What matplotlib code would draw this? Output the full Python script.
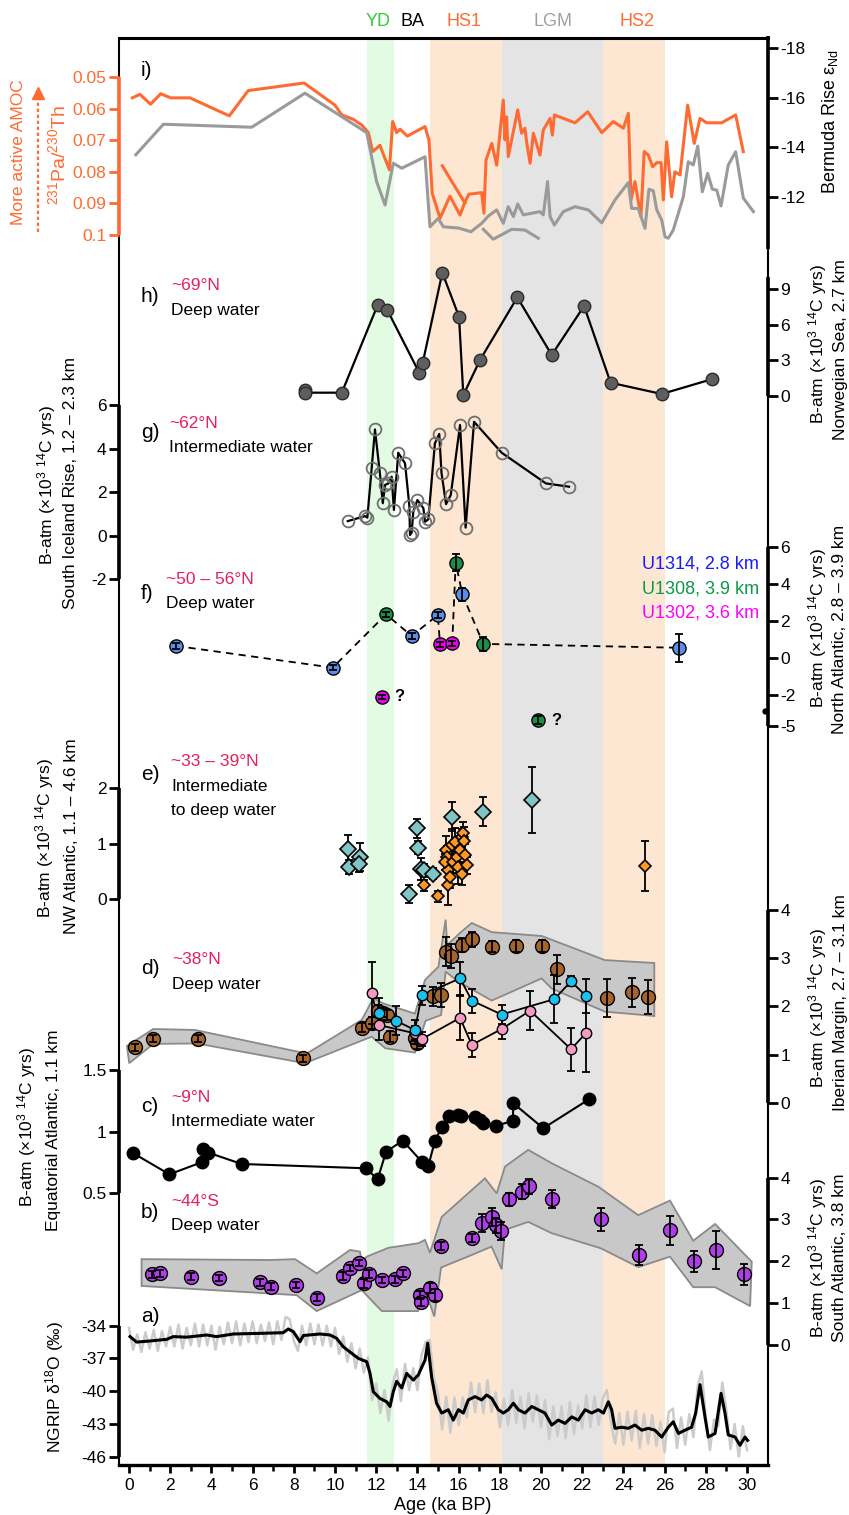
import numpy as np
import matplotlib
matplotlib.use("Agg")
import matplotlib.pyplot as plt
from matplotlib.lines import Line2D
from matplotlib.transforms import blended_transform_factory

plt.rcParams['font.family'] = ['Liberation Sans', 'DejaVu Sans']
plt.rcParams['mathtext.fontset'] = 'custom'
plt.rcParams['mathtext.rm'] = 'Liberation Sans'
plt.rcParams['mathtext.it'] = 'Liberation Sans:italic'
plt.rcParams['mathtext.bf'] = 'Liberation Sans:bold'
plt.rcParams['axes.unicode_minus'] = False

# ---------------- DATA ----------------
band_start = [11.55, 14.6, 18.1, 23.0]
band_end = [12.87, 18.1, 23.0, 26.0]
band_color = ['#e2fbe2', '#fde7d2', '#e4e4e4', '#fde7d2']
band_label = ['YD', 'BA', 'HS1', 'LGM', 'HS2']
band_label_age = [12.09, 13.74, 16.26, 20.58, 24.66]
band_label_color = ['#33cc33', '#000000', '#ff6a33', '#a0a0a0', '#ff6a33']

# i) Pa/Th and eNd
pa_age_a = [0.16,0.53,1.05,1.54,2.02,2.96,4.87,5.79,8.50,10.0,10.33,10.89,11.30,11.62,11.83,12.18,12.64,12.80,12.99,13.16,
            13.51,14.37,14.56,14.72,15.10,15.58,16.07,16.31,16.50,17.12,17.23,17.33,17.61,17.85,18.17,18.25,18.33,18.41,18.87,19.06,
            19.22,19.31,19.47,19.63,19.95,20.11,20.44,20.55,20.65,21.65,22.27,22.95,23.51,24.0,24.24,24.37,24.56,24.85,25.01,25.21,
            25.42,25.62,25.83,25.94,26.1,26.34,26.5,26.75,27.12,27.44,27.72,28.04,28.77,29.45,29.82]
pa_val_a = [0.0566,0.0555,0.0586,0.0553,0.0566,0.0566,0.0623,0.0543,0.0519,0.0589,0.0620,0.0634,0.0652,0.0676,0.0736,0.0716,0.0794,0.0641,0.0676,0.0665,
            0.0687,0.0657,0.0699,0.0868,0.0947,0.0877,0.0937,0.0895,0.0871,0.0866,0.0931,0.0763,0.0710,0.0779,0.0573,0.0699,0.0626,0.0752,0.0604,0.0678,
            0.0662,0.0710,0.0773,0.0678,0.0747,0.0668,0.0631,0.0684,0.0620,0.0645,0.0610,0.0676,0.0641,0.0662,0.0615,0.0889,0.0831,0.0942,0.0736,0.0747,
            0.0784,0.0771,0.0771,0.0889,0.0705,0.0879,0.0800,0.0810,0.0589,0.0710,0.0631,0.0645,0.0645,0.0620,0.0736]
pa_age_b = [15.21, 16.31]
pa_val_b = [0.0781, 0.0899]
nd_age_a = [0.33,1.67,5.96,8.54,11.54,12.02,12.43,12.83,13.24,14.37,14.61,15.01,15.26,16.0,16.6,17.12,17.44,17.85,18.17,18.41,
            18.66,18.87,19.14,19.51,19.95,20.11,20.32,20.44,20.65,21.08,21.65,22.30,22.95,23.59,24.24,24.40,24.72,25.05,25.24,25.45,
            25.62,25.86,26.02,26.18,26.42,26.91,27.15,27.39,27.61,27.83,28.09,28.32,28.53,28.74,29.09,29.45,29.82,30.31]
nd_val_a = [-13.7,-14.93,-14.81,-16.18,-14.59,-12.62,-11.68,-13.36,-13.16,-13.62,-10.8,-11.14,-10.8,-10.75,-10.6,-10.94,-11.23,-11.48,-10.94,-11.61,
            -11.21,-11.72,-11.28,-11.34,-11.41,-11.28,-12.62,-11.21,-10.87,-11.41,-11.61,-11.48,-10.96,-11.88,-12.58,-11.54,-11.54,-10.74,-12.31,-12.25,
            -11.48,-11.07,-10.40,-10.34,-10.67,-12.01,-13.42,-13.29,-14.05,-12.21,-12.95,-12.31,-12.28,-11.64,-13.29,-13.82,-11.96,-11.41]
nd_age_b = [17.2, 17.68, 18.58, 19.22, 19.87]
nd_val_b = [-10.7, -10.3, -10.7, -10.67, -10.34]

# h) Norwegian Sea
h_age = [8.54, 8.54, 10.33, 12.07, 12.54, 14.09, 14.26, 15.21, 16.02, 16.23, 17.04, 18.85, 20.52, 22.09, 23.38, 25.86, 28.32]
h_val = [0.51, 0.28, 0.28, 7.67, 7.25, 1.96, 2.81, 10.4, 6.69, 0.08, 3.04, 8.32, 3.46, 7.59, 1.12, 0.17, 1.43]

# g) South Iceland Rise
g_age = [10.62,11.46,11.57,11.78,11.94,12.18,12.32,12.43,12.59,12.75,12.86,13.07,13.40,13.61,13.64,13.72,13.80,14.0,14.29,14.37,
         14.53,14.85,15.06,15.17,15.39,15.62,16.07,16.34,16.75,18.09,20.24,21.36]
g_val = [0.67,0.90,0.83,3.09,4.88,2.86,1.49,2.33,2.40,2.71,1.18,3.81,3.32,1.36,0.03,0.14,1.10,1.64,1.26,0.64,
         0.75,4.24,4.67,2.89,1.45,1.87,5.08,0.37,5.23,3.81,2.40,2.25]

# f) North Atlantic deep
f_blue_age = [2.28, 9.89, 13.72, 14.99, 16.18, 26.70]
f_blue_val = [0.64, -0.54, 1.18, 2.32, 3.45, 0.54]
f_blue_err = [0.15, 0.15, 0.15, 0.15, 0.35, 0.75]
f_green_age = [12.48, 15.86, 17.20]
f_green_val = [2.36, 5.17, 0.75]
f_green_err = [0.15, 0.45, 0.4]
f_mag_age = [15.10, 15.69]
f_mag_val = [0.73, 0.78]
f_mag_err = [0.15, 0.15]
f_q_age = [12.27, 19.87]
f_q_val = [-2.21, -4.42]
f_q_err = [0.2, 0.35]
f_q_color = ['#ee00ee', '#1a8f4a']
f_ticks = [6, 4, 2, 0, -2, -5]
f_legend = ['U1314, 2.8 km', 'U1308, 3.9 km', 'U1302, 3.6 km']
f_legend_color = ['#1a1aff', '#0b9a4a', '#ff00ff']

# e) NW Atlantic
e_teal_age = [10.62, 10.69, 11.21, 11.15, 13.61, 13.97, 14.01, 14.16, 14.30, 14.77, 15.67, 17.20, 19.55]
e_teal_val = [0.90, 0.58, 0.76, 0.64, 0.09, 1.28, 0.93, 0.54, 0.52, 0.46, 1.49, 1.58, 1.79]
e_teal_err = [0.25, 0.12, 0.25, 0.15, 0.17, 0.17, 0.12, 0.2, 0.12, 0.1, 0.27, 0.27, 0.6]
e_or_age = [14.32, 15.02, 15.39, 15.42, 15.47, 15.50, 15.58, 15.34, 15.68, 15.73, 15.83, 15.91, 15.99, 16.07, 16.15, 16.15, 16.23, 16.28, 16.31, 16.39, 25.05]
e_or_val = [0.25, 0.05, 0.88, 0.76, 0.52, 0.25, 0.40, 0.67, 0.97, 0.67, 1.03, 0.76, 0.58, 0.88, 0.46, 1.12, 1.19, 1.05, 0.79, 0.61, 0.60]
e_or_err = [0.1, 0.1, 0.25, 0.2, 0.3, 0.35, 0.2, 0.15, 0.3, 0.2, 0.25, 0.2, 0.3, 0.25, 0.2, 0.15, 0.2, 0.25, 0.2, 0.15, 0.45]

# d) Iberian Margin
d_br_age = [0.29,1.18,3.35,8.46,11.30,11.78,12.10,12.34,12.51,12.67,13.88,13.97,14.77,15.15,15.37,15.63,16.18,16.64,17.61,18.77,20.06,20.76,23.19,24.40,25.18]
d_br_val = [1.15,1.33,1.33,0.92,1.56,1.65,1.91,1.87,1.82,1.37,1.34,1.24,2.21,2.23,3.13,3.04,3.27,3.39,3.24,3.25,3.25,2.77,2.17,2.29,2.19]
d_br_err = [0.07,0.07,0.07,0.07,0.1,0.12,0.12,0.1,0.1,0.12,0.12,0.12,0.2,0.25,0.3,0.25,0.15,0.15,0.12,0.12,0.12,0.3,0.4,0.3,0.35]
d_up_age = [-0.1, 1.18, 3.2, 8.63, 11.30, 11.86, 12.34, 13.88, 14.37, 15.02, 15.37, 15.45, 16.03, 16.64, 17.61, 20.04, 23.1, 25.5]
d_up_val = [1.18, 1.53, 1.51, 1.02, 1.72, 2.17, 2.06, 1.85, 2.55, 2.82, 3.80, 3.27, 3.51, 3.73, 3.54, 3.46, 2.96, 2.90]
d_lo_age = [0.01, 1.18, 3.29, 8.54, 11.78, 12.44, 13.88, 14.4, 15.15, 15.37, 15.99, 17.61, 20.03, 20.52, 23.1, 25.5]
d_lo_val = [0.82, 1.22, 1.23, 0.82, 1.37, 1.13, 1.04, 1.7, 1.82, 2.72, 2.51, 2.12, 2.58, 2.37, 1.89, 1.80]
d_cy_age = [12.15, 12.96, 13.88, 14.21, 16.07, 16.64, 18.09, 20.65, 21.46, 22.17]
d_cy_val = [1.87, 1.70, 1.51, 2.23, 2.58, 2.12, 1.83, 2.15, 2.52, 2.22]
d_cy_err = [0.3, 0.3, 0.2, 0.2, 0.35, 0.25, 0.2, 0.5, 0.1, 0.35]
d_pk_age = [11.78, 12.15, 13.88, 14.21, 16.07, 16.64, 18.09, 19.47, 21.46, 22.17]
d_pk_val = [2.28, 1.61, 1.44, 1.32, 1.76, 1.20, 1.53, 1.91, 1.11, 1.44]
d_pk_err = [0.65, 0.3, 0.15, 0.15, 0.45, 0.25, 0.2, 0.4, 0.45, 0.8]

# c) Equatorial Atlantic
c_age = [0.21,1.96,3.53,3.61,3.85,5.47,11.50,12.07,12.48,13.29,14.21,14.53,14.85,15.18,15.53,15.99,16.12,16.80,17.04,17.20,17.80,18.63,18.66,20.11,22.33]
c_val = [0.825,0.654,0.752,0.857,0.83,0.738,0.703,0.614,0.838,0.927,0.757,0.722,0.925,1.036,1.127,1.136,1.13,1.117,1.095,1.073,1.046,1.089,1.23,1.028,1.263]

# b) South Atlantic
b_age = [1.10,1.50,3.01,4.37,6.36,6.88,8.11,9.14,10.37,10.73,11.17,11.42,11.67,12.30,12.91,13.29,14.13,14.16,14.61,14.85,
         15.15,16.64,17.15,17.61,17.80,18.06,18.45,19.06,19.43,20.52,22.90,24.77,26.26,27.43,28.50,29.85]
b_val = [1.69,1.71,1.63,1.60,1.50,1.39,1.43,1.13,1.65,1.84,1.96,1.47,1.69,1.55,1.57,1.71,1.19,1.03,1.35,1.19,
         2.37,2.56,2.92,3.06,2.86,2.72,3.48,3.66,3.79,3.48,3.00,2.15,2.74,2.00,2.27,1.69]
b_err = [0.08,0.08,0.08,0.08,0.08,0.08,0.08,0.08,0.1,0.08,0.08,0.1,0.1,0.08,0.08,0.08,0.1,0.1,0.12,0.15,
         0.1,0.1,0.22,0.22,0.18,0.22,0.15,0.18,0.18,0.22,0.28,0.25,0.35,0.25,0.45,0.25]
b_up_age = [0.61,6.84,8.06,9.11,10.73,11.21,11.30,11.54,12.59,14.04,14.37,14.61,15.18,17.28,17.85,18.25,19.38,20.52,22.78,24.72,26.26,27.39,28.45,30.23]
b_up_val = [2.05,2.03,2.05,1.71,2.27,2.23,1.99,2.11,2.32,2.43,2.51,2.2,3.06,3.98,3.62,4.26,4.66,4.34,3.78,3.10,3.45,2.49,2.89,1.99]
b_lo_age = [0.61,6.84,8.14,9.11,11.30,12.27,14.03,14.37,14.82,15.15,16.64,17.6,18.09,18.25,19.38,20.52,22.90,24.72,26.26,27.39,28.45,30.15]
b_lo_val = [1.41,1.23,1.19,0.81,1.31,0.81,0.81,1.31,0.68,1.85,2.15,2.35,1.81,2.75,2.94,2.67,2.31,1.86,2.11,1.38,1.38,0.93]

# a) NGRIP d18O (smoothed and raw)
a_age = [0.05,0.37,1.02,1.83,2.15,2.8,3.77,4.25,5.06,6.36,7.49,7.73,7.98,8.3,8.46,9.27,9.76,10.08,10.4,10.81,
         11.13,11.54,11.70,11.86,12.18,12.51,12.67,12.83,12.99,13.24,13.48,13.80,14.04,14.37,14.5,14.69,14.93,15.18,15.5,15.74,
         15.99,16.23,16.47,16.80,17.12,17.36,17.61,17.93,18.17,18.41,18.66,18.90,19.22,19.55,19.87,20.19,20.52,20.84,21.17,21.49,
         21.81,22.14,22.46,22.78,23.03,23.27,23.43,23.59,23.92,24.24,24.56,24.89,25.21,25.53,25.86,26.18,26.42,26.67,26.99,27.31,
         27.51,27.72,27.96,28.12,28.45,28.74,28.93,29.09,29.42,29.66,29.9,30.03]
a_val = [-35.0,-35.5,-35.4,-35.25,-35.0,-35.05,-34.85,-35.0,-34.76,-34.7,-34.64,-34.3,-34.55,-35.47,-34.9,-34.76,-34.85,-35.16,-35.93,-36.53,
         -36.99,-37.3,-38.37,-40.05,-40.66,-40.97,-41.4,-40.05,-39.1,-39.7,-38.37,-38.98,-38.52,-37.15,-35.6,-38.7,-41.1,-42.0,-41.7,-42.65,
         -41.7,-42.0,-40.8,-40.5,-40.8,-40.35,-40.66,-41.7,-42.0,-41.7,-41.1,-41.7,-42.0,-41.4,-41.7,-42.0,-43.1,-42.65,-42.95,-42.35,
         -42.65,-41.7,-42.0,-41.7,-42.0,-40.97,-41.7,-43.4,-43.3,-43.4,-43.1,-43.57,-43.4,-43.57,-44.2,-43.3,-42.8,-43.87,-43.57,-43.3,
         -42.0,-39.4,-42.35,-44.2,-43.87,-40.2,-42.0,-44.0,-44.2,-44.95,-44.2,-44.5]
a_raw = [-34.2,-36.2,-34.8,-36.4,-34.6,-36.1,-34.4,-36.3,-34.5,-35.9,
         -34.1,-35.9,-33.9,-36.1,-34.2,-35.8,-33.8,-35.9,-33.9,-35.8,
         -34.0,-36.2,-34.1,-35.7,-33.7,-35.6,-33.6,-35.8,-33.8,-35.5,
         -33.6,-35.6,-33.9,-35.4,-33.7,-35.7,-33.6,-35.3,-33.2,-33.4,
         -35.4,-36.3,-34.0,-35.8,-33.8,-35.7,-33.9,-35.8,-34.0,-35.9,
         -34.2,-36.6,-35.0,-37.3,-35.6,-37.9,-36.1,-38.3,-36.9,-40.8,
         -39.3,-42.0,-39.9,-42.7,-39.3,-38.0,-40.9,-37.5,-39.9,-37.9,
         -39.9,-36.7,-35.5,-35.3,-38.8,-40.2,-43.5,-40.5,-43.8,-40.6,
         -43.1,-40.6,-42.4,-39.2,-41.9,-39.3,-42.0,-39.0,-41.9,-40.1,
         -43.3,-40.7,-43.1,-39.9,-42.9,-40.5,-43.4,-40.2,-42.8,-40.4,
         -43.3,-40.8,-44.4,-41.4,-44.1,-41.4,-44.3,-41.0,-43.9,-41.3,
         -43.4,-40.4,-43.3,-40.5,-43.1,-40.6,-39.9,-43.0,-44.8,-42.0,
         -44.9,-41.9,-44.5,-41.8,-45.2,-42.1,-44.8,-42.2,-45.0,-42.8,
         -45.6,-41.9,-41.6,-45.2,-42.4,-44.9,-42.1,-44.2,-39.6,-38.2,
         -42.4,-45.4,-42.6,-43.2,-39.2,-41.8,-45.3,-43.0,-46.0,-43.2,
         -45.4]
a_raw_age = np.linspace(0, 30, len(a_raw))

# ---------------- LAYOUT ----------------
W, H = 849, 1515
fig = plt.figure(figsize=(W / 100, H / 100), dpi=100)
T, B, L, R = 38, 1465, 119, 768
RECT = [L / W, 1 - B / H, (R - L) / W, (B - T) / H]
XPX0, XPX30 = 129, 747
sx = 30.0 / (XPX30 - XPX0)
XLIM = ((L - XPX0) * sx, (R - XPX0) * sx)

ORANGE = '#ff6a33'
RED = '#e3215b'
FS = 12.5


def ylim_from(va, pa, vb, pb):
    s = (vb - va) / (pb - pa)
    return va + (B - pa) * s, va + (T - pa) * s


base = fig.add_axes(RECT)
base.set_xlim(*XLIM)
base.set_ylim(0, 1)
base.set_yticks([])
base.set_xticks(np.arange(0, 31, 2))
base.set_xticks(np.arange(1, 30, 2), minor=True)
base.tick_params(axis='x', which='major', direction='out', length=6, width=2, labelsize=FS, pad=3)
base.tick_params(axis='x', which='minor', direction='out', length=4, width=1.8)
for sname, lw in [('top', 2.2), ('bottom', 2.4), ('left', 1.5), ('right', 1.5)]:
    base.spines[sname].set_linewidth(lw)
for a0, a1, c in zip(band_start, band_end, band_color):
    base.axvspan(a0, a1, color=c, lw=0, zorder=0)
tb = blended_transform_factory(base.transData, fig.transFigure)
for lab, ag, col in zip(band_label, band_label_age, band_label_color):
    base.text(ag, 1 - 21 / H, lab, transform=tb, ha='center', va='center', color=col, fontsize=13)


def panel(side, va, pa, vb, pb, ticks, bounds, labels=None, color='k'):
    ax = fig.add_axes(RECT, facecolor='none')
    ax.set_xlim(*XLIM)
    ax.set_ylim(*ylim_from(va, pa, vb, pb))
    for s in ['top', 'bottom', 'left', 'right']:
        ax.spines[s].set_visible(False)
    sp = ax.spines[side]
    sp.set_visible(True)
    sp.set_bounds(*bounds)
    sp.set_linewidth(2.6)
    sp.set_color(color)
    sp.set_capstyle('butt')
    ax.set_xticks([])
    if side == 'right':
        ax.yaxis.tick_right()
    else:
        ax.yaxis.tick_left()
    ax.set_yticks(ticks)
    if labels is not None:
        ax.set_yticklabels(labels)
    ax.tick_params(axis='y', direction='out', length=7, width=2, colors=color, labelsize=FS, pad=2)
    return ax


def ftext(x, y, s, **kw):
    fig.text(x / W, 1 - y / H, s, **kw)


eb_kw = dict(fmt='none', ecolor='k', elinewidth=1.3, capsize=3, capthick=1.3)

# ---- i) ----
axi = panel('left', 0.05, 77, 0.1, 235, [0.05, 0.06, 0.07, 0.08, 0.09, 0.1], (0.05, 0.1),
            ['0.05', '0.06', '0.07', '0.08', '0.09', '0.1'], color=ORANGE)
axi2 = panel('right', -18, 48, -12, 197, [-18, -16, -14, -12], (-18.5, -9.9))
axi2.plot(nd_age_a, nd_val_a, color='#9a9a9a', lw=2.2, zorder=2)
axi2.plot(nd_age_b, nd_val_b, color='#9a9a9a', lw=2.2, zorder=2)
axi.plot(pa_age_a, pa_val_a, color=ORANGE, lw=2.2, zorder=3)
axi.plot(pa_age_b, pa_val_b, color=ORANGE, lw=2.2, zorder=3)

# ---- h) ----
axh = panel('right', 0, 396, 9, 289.3, [0, 3, 6, 9], (0, 10))
axh.plot(h_age, h_val, color='k', lw=1.6, marker='o', ms=9, mfc='#5e5e5e', mec='#2b2b2b', mew=1)

# ---- g) ----
axg = panel('left', 0, 535.7, 6, 405, [6, 4, 2, 0, -2], (-2, 6))
axg.plot(g_age, g_val, color='k', lw=1.6, zorder=2)
axg.plot(g_age, g_val, ls='none', marker='o', ms=8.5, mfc='none', mec='#707070', mew=1.3, zorder=3)

# ---- f) ----
F_COMP = 1.72 / 3.0


def fpos(v):
    v = np.asarray(v, dtype=float)
    return np.where(v < -2, -2 + (v + 2) * F_COMP, v)


axf = panel('right', 0, 657.7, 6, 547.3, list(fpos(f_ticks)), (float(fpos(-5)), 6),
            [str(t) for t in f_ticks])
f_line_age = np.array(f_blue_age + f_green_age + f_mag_age)
f_line_val = np.array(f_blue_val + f_green_val + f_mag_val)
order = np.argsort(f_line_age)
axf.plot(f_line_age[order], f_line_val[order], color='k', lw=1.3, ls=(0, (4, 3)), zorder=2)
for ag, vl, er, col in [(f_blue_age, f_blue_val, f_blue_err, '#5b8ee6'),
                        (f_green_age, f_green_val, f_green_err, '#1a8f4a'),
                        (f_mag_age, f_mag_val, f_mag_err, '#ee00ee')]:
    axf.plot(ag, vl, ls='none', marker='o', ms=9.5, mfc=col, mec='k', mew=1, zorder=3)
    axf.errorbar(ag, vl, yerr=er, zorder=4, **eb_kw)
for ag, vl, er, col in zip(f_q_age, f_q_val, f_q_err, f_q_color):
    p = float(fpos(vl))
    axf.plot([ag], [p], ls='none', marker='o', ms=9.5, mfc=col, mec='k', mew=1, zorder=3)
    axf.errorbar([ag], [p], yerr=[er * F_COMP], zorder=4, **eb_kw)
    axf.annotate('?', (ag, p), xytext=(9, 0), textcoords='offset points', va='center', ha='left',
                 fontsize=12, fontweight='bold')
tbf = blended_transform_factory(axf.transAxes, axf.transData)
axf.plot([0.996], [float(fpos(-3.6))], transform=tbf, marker='o', ms=3.5, color='k', clip_on=False)
for k, (txt, col) in enumerate(zip(f_legend, f_legend_color)):
    ftext(759, 564 + 24.5 * k, txt, color=col, fontsize=13, ha='right', va='center')

# ---- e) ----
axe = panel('left', 0, 899, 2, 788.3, [0, 1, 2], (0, 2))
axe.errorbar(e_teal_age, e_teal_val, yerr=e_teal_err, zorder=2, **eb_kw)
axe.plot(e_teal_age, e_teal_val, ls='none', marker='D', ms=8.5, mfc='#7fc5c5', mec='k', mew=1.2, zorder=3)
axe.errorbar(e_or_age, e_or_val, yerr=e_or_err, zorder=4, **eb_kw)
axe.plot(e_or_age, e_or_val, ls='none', marker='D', ms=6.5, mfc='#ff9922', mec='k', mew=1.2, zorder=5)

# ---- d) ----
axd = panel('right', 0, 1102.7, 4, 910, [0, 1, 2, 3, 4], (0, 4))
axd.fill(list(d_up_age) + list(d_lo_age[::-1]), list(d_up_val) + list(d_lo_val[::-1]),
         facecolor='#c8c8c8', edgecolor='#8a8a8a', lw=1.3, zorder=1)
axd.plot(d_pk_age, d_pk_val, color='k', lw=1.3, zorder=2)
axd.plot(d_cy_age, d_cy_val, color='k', lw=1.3, zorder=2)
axd.plot(d_br_age, d_br_val, ls='none', marker='o', ms=10, mfc='#a5652a', mec='k', mew=1, zorder=3)
axd.errorbar(d_br_age, d_br_val, yerr=d_br_err, zorder=4, **eb_kw)
axd.errorbar(d_pk_age, d_pk_val, yerr=d_pk_err, zorder=4, **eb_kw)
axd.errorbar(d_cy_age, d_cy_val, yerr=d_cy_err, zorder=4, **eb_kw)
axd.plot(d_pk_age, d_pk_val, ls='none', marker='o', ms=7.5, mfc='#f49ac2', mec='k', mew=1, zorder=5)
axd.plot(d_cy_age, d_cy_val, ls='none', marker='o', ms=7.5, mfc='#19c0f0', mec='k', mew=1, zorder=5)

# ---- c) ----
axc = panel('left', 1, 1131.7, 0.5, 1193.3, [0.5, 1, 1.5], (0.5, 1.5), ['0.5', '1', '1.5'])
axc.plot(c_age, c_val, color='k', lw=1.5, marker='o', ms=9, mfc='k', mec='k')

# ---- b) ----
axb = panel('right', 0, 1345, 4, 1177.5, [0, 1, 2, 3, 4], (0, 4))
axb.fill(list(b_up_age) + list(b_lo_age[::-1]), list(b_up_val) + list(b_lo_val[::-1]),
         facecolor='#c8c8c8', edgecolor='#8a8a8a', lw=1.3, zorder=1)
axb.plot(b_age, b_val, ls='none', marker='o', ms=10, mfc='#b03ee8', mec='k', mew=1, zorder=3)
axb.errorbar(b_age, b_val, yerr=b_err, zorder=4, **eb_kw)

# ---- a) ----
axa = panel('left', -34, 1325.7, -46, 1456.7, [-34, -37, -40, -43, -46], (-46, -34))
axa.plot(a_raw_age, a_raw, color='#cbcbcb', lw=1.8, zorder=2)
axa.plot(a_age, a_val, color='k', lw=2.2, zorder=3)

# ---------------- TEXT ----------------
for lab, y in [('i)', 71), ('h)', 297), ('g)', 432), ('f)', 593), ('e)', 775), ('d)', 968),
               ('c)', 1107), ('b)', 1212), ('a)', 1317)]:
    ftext(141, y, lab, fontsize=15, ha='left', va='center')

for x, y1, t1, t2, three in [(171, 286, '~69°N', 'Deep water', None),
                             (169, 423, '~62°N', 'Intermediate water', None),
                             (166, 579, '~50 – 56°N', 'Deep water', None),
                             (171, 762, '~33 – 39°N', 'Intermediate', 'to deep water'),
                             (172, 960, '~38°N', 'Deep water', None),
                             (171, 1097, '~9°N', 'Intermediate water', None),
                             (171, 1201, '~44°S', 'Deep water', None)]:
    ftext(x, y1, t1, color=RED, fontsize=FS, ha='left', va='center')
    ftext(x, y1 + 24.5, t2, color='k', fontsize=FS, ha='left', va='center')
    if three:
        ftext(x, y1 + 49, three, color='k', fontsize=FS, ha='left', va='center')

BATM = 'B-atm (×10$^3$ $^{14}$C yrs)'
rot = dict(rotation=90, ha='center', va='center', fontsize=FS)
# left labels
ftext(19, 152, 'More active AMOC', color=ORANGE, **rot)
ftext(58, 155, '$^{231}$Pa/$^{230}$Th', color=ORANGE, rotation=90, ha='center', va='center', fontsize=14)
fig.add_artist(Line2D([38 / W, 38 / W], [1 - 232 / H, 1 - 97 / H], transform=fig.transFigure,
                      color=ORANGE, lw=1.6, ls=(0, (1.5, 1.2))))
fig.add_artist(Line2D([38 / W], [1 - 93 / H], transform=fig.transFigure, marker='^', ms=8,
                      color=ORANGE, ls='none'))
ftext(47, 485, BATM, **rot)
ftext(71, 483, 'South Iceland Rise, 1.2 – 2.3 km', **rot)
ftext(45, 838, BATM, **rot)
ftext(71, 836, 'NW Atlantic, 1.1 – 4.6 km', **rot)
ftext(27, 1127, BATM, **rot)
ftext(54, 1130, 'Equatorial Atlantic, 1.1 km', **rot)
ftext(55, 1387, 'NGRIP δ$^{18}$O (‰)', **rot)
# right labels
ftext(830, 122, 'Bermuda Rise ε$_{\\mathrm{Nd}}$', rotation=90, ha='center', va='center', fontsize=13)
ftext(818, 344, BATM, **rot)
ftext(840, 350, 'Norwegian Sea, 2.7 km', **rot)
ftext(818, 628, BATM, **rot)
ftext(840, 629, 'North Atlantic, 2.8 – 3.9 km', **rot)
ftext(818, 1008, BATM, **rot)
ftext(840, 1003, 'Iberian Margin, 2.7 – 3.1 km', **rot)
ftext(818, 1258, BATM, **rot)
ftext(840, 1258, 'South Atlantic, 3.8 km', **rot)

ftext(443, 1505, 'Age (ka BP)', fontsize=13, ha='center', va='center')

fig.savefig('out.png', dpi=100)
